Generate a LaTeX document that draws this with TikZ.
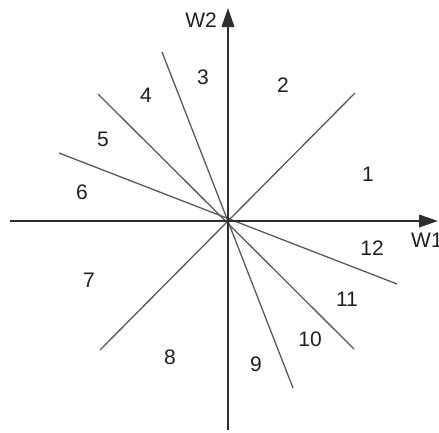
\documentclass[tikz,border=0pt]{standalone}
\usepackage{fontspec}
\setmainfont{Liberation Sans}
\usetikzlibrary{arrows.meta}
\begin{document}
\begin{tikzpicture}[x=1pt,y=-1pt,
  axis/.style={draw=black!82,line width=2.3pt,-{Triangle[length=19pt,width=12.5pt]}},
  ray/.style={draw=black!65,line width=1.3pt},
  lbl/.style={font=\fontsize{21}{24}\selectfont,text=black!88,inner sep=0pt}]
\useasboundingbox (0,0) rectangle (439,432);
\coordinate (O) at (228,221);
\coordinate (xs) at (10,221);
\coordinate (xe) at (438,221);
\coordinate (ys) at (228,430);
\coordinate (ye) at (228,8);
\coordinate (s1) at (162,52);
\coordinate (s2) at (293,388);
\coordinate (h1) at (59,153);
\coordinate (h2) at (397,284);
\coordinate (d1) at (98,94);
\coordinate (d2) at (354,349);
\coordinate (e1) at (355,93);
\coordinate (e2) at (100,350);
\draw[ray] (s1) -- (s2);
\draw[ray] (h1) -- (h2);
\draw[ray] (d1) -- (d2);
\draw[ray] (e1) -- (e2);
\draw[axis] (xs) -- (xe);
\draw[axis] (ys) -- (ye);
\node[lbl,anchor=west] (w1) at (411,240) {W1};
\node[lbl] (w2) at (201,20) {W2};
\node[lbl] (n1) at (368,174) {1};
\node[lbl] (n2) at (283,85) {2};
\node[lbl] (n3) at (203,77) {3};
\node[lbl] (n4) at (146,95) {4};
\node[lbl] (n5) at (103,139) {5};
\node[lbl] (n6) at (82,192) {6};
\node[lbl] (n7) at (89,280) {7};
\node[lbl] (n8) at (170,357) {8};
\node[lbl] (n9) at (256,364) {9};
\node[lbl] (n10) at (310,339) {10};
\node[lbl] (n11) at (347,299) {11};
\node[lbl] (n12) at (372,248) {12};
\end{tikzpicture}
\end{document}
